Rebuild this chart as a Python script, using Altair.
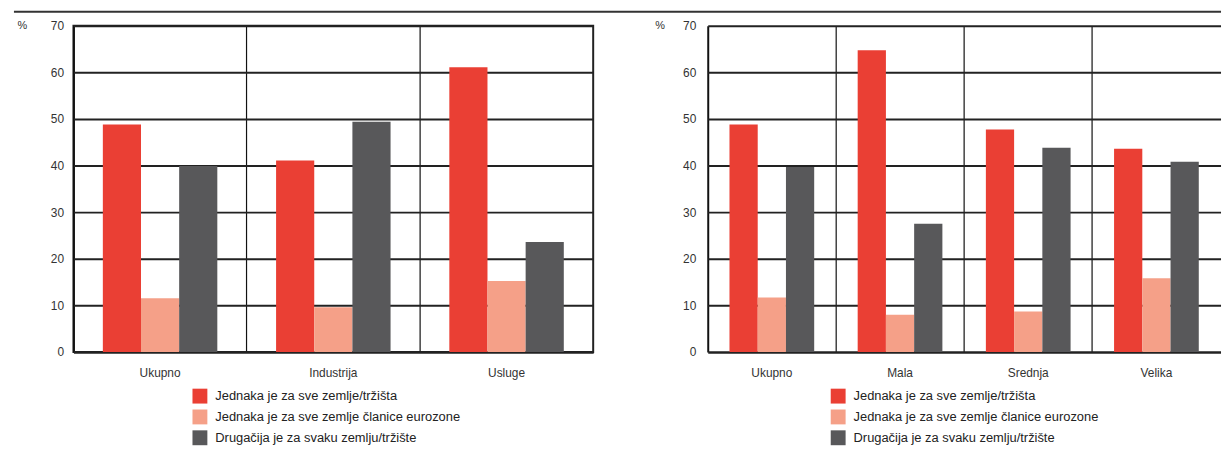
import altair as alt
import pandas as pd

series = [
    "Jednaka je za sve zemlje/tržišta",
    "Jednaka je za sve zemlje članice eurozone",
    "Drugačija je za svaku zemlju/tržište",
]
colors = ["#EA3F34", "#F5A088", "#58585A"]

sector_cats = ["Ukupno", "Industrija", "Usluge"]
sector_equal_all = [48.8, 41.1, 61.1]
sector_equal_euro = [11.5, 9.6, 15.2]
sector_different = [39.9, 49.4, 23.6]

size_cats = ["Ukupno", "Mala", "Srednja", "Velika"]
size_equal_all = [48.8, 64.7, 47.7, 43.6]
size_equal_euro = [11.7, 8.0, 8.7, 15.8]
size_different = [39.7, 27.5, 43.8, 40.8]

y_ticks = [0, 10, 20, 30, 40, 50, 60, 70]
FONT = "Liberation Sans"


def make_df(cats, a, b, c):
    rows = []
    for i, cat in enumerate(cats):
        for s, vals in zip(series, (a, b, c)):
            rows.append({"cat": cat, "series": s, "value": vals[i]})
    return pd.DataFrame(rows)


def panel(df, cats, title_x, label_pad, legend_x):
    bars = alt.Chart(df).mark_bar().encode(
        x=alt.X(
            "cat:N",
            sort=cats,
            scale=alt.Scale(domain=cats, paddingInner=0, paddingOuter=0),
            axis=alt.Axis(
                title=None,
                labelAngle=0,
                bandPosition=0,
                labelOffset=0,
                grid=True,
                gridColor="#111111",
                gridWidth={"condition": {"test": "datum.value === 'Ukupno'", "value": 2}, "value": 1.2},
                ticks=False,
                domain=False,
                labelPadding=16,
                labelFontSize=12,
                labelColor="#333333",
                labelFont=FONT,
            ),
        ),
        xOffset=alt.XOffset(
            "series:N",
            sort=series,
            scale=alt.Scale(domain=series, paddingInner=0, paddingOuter=0.77),
        ),
        y=alt.Y(
            "value:Q",
            scale=alt.Scale(domain=[0, 70], nice=False),
            axis=alt.Axis(
                values=y_ticks,
                title="%",
                titleAngle=0,
                titleX=title_x,
                titleY=0,
                titleAlign="center",
                titleBaseline="middle",
                titleFontSize=11,
                titleFontWeight="normal",
                titleColor="#333333",
                titleFont=FONT,
                grid=True,
                gridColor="#222222",
                gridWidth={"condition": {"test": "datum.value === 0", "value": 2.6}, "value": 2},
                domain=False,
                ticks=False,
                labelPadding=label_pad,
                labelFontSize=12,
                labelColor="#333333",
                labelFont=FONT,
            ),
        ),
        color=alt.Color(
            "series:N",
            sort=series,
            scale=alt.Scale(domain=series, range=colors),
            legend=alt.Legend(
                title=None,
                orient="none",
                legendX=legend_x,
                legendY=366,
                symbolType="square",
                symbolSize=225,
                symbolStrokeWidth=0,
                labelFontSize=13,
                labelColor="#222222",
                labelFont=FONT,
                labelLimit=400,
                labelOffset=8,
                rowPadding=6,
                padding=0,
            ),
        ),
    )
    return bars


left_df = make_df(sector_cats, sector_equal_all, sector_equal_euro, sector_different)
right_df = make_df(size_cats, size_equal_all, size_equal_euro, size_different)

top_rule = alt.Chart(pd.DataFrame({"a": [0]})).mark_rule(color="#333333", strokeWidth=2).encode(
    x=alt.value(-60), x2=alt.value(1157), y=alt.value(-14)
)

left = alt.layer(
    panel(left_df, sector_cats, -52, 10, 120),
    top_rule,
).properties(width=524, height=329, view=alt.ViewBackground(stroke="#222222", strokeWidth=2))

right = panel(right_df, size_cats, -48.5, 12, 124).properties(
    width=517, height=329, view=alt.ViewBackground(stroke="transparent")
)

chart = (
    alt.hconcat(left, right, spacing=115.5, bounds="flush")
    .resolve_scale(color="independent", x="independent", y="independent", xOffset="independent")
    .resolve_legend(color="independent")
    .properties(padding={"left": 4, "top": 0, "right": 0, "bottom": 0})
    .configure(font=FONT)
    .configure_view(stroke="#222222", strokeWidth=2)
)

chart.save("out.html", embed_options={"renderer": "svg", "actions": False})
